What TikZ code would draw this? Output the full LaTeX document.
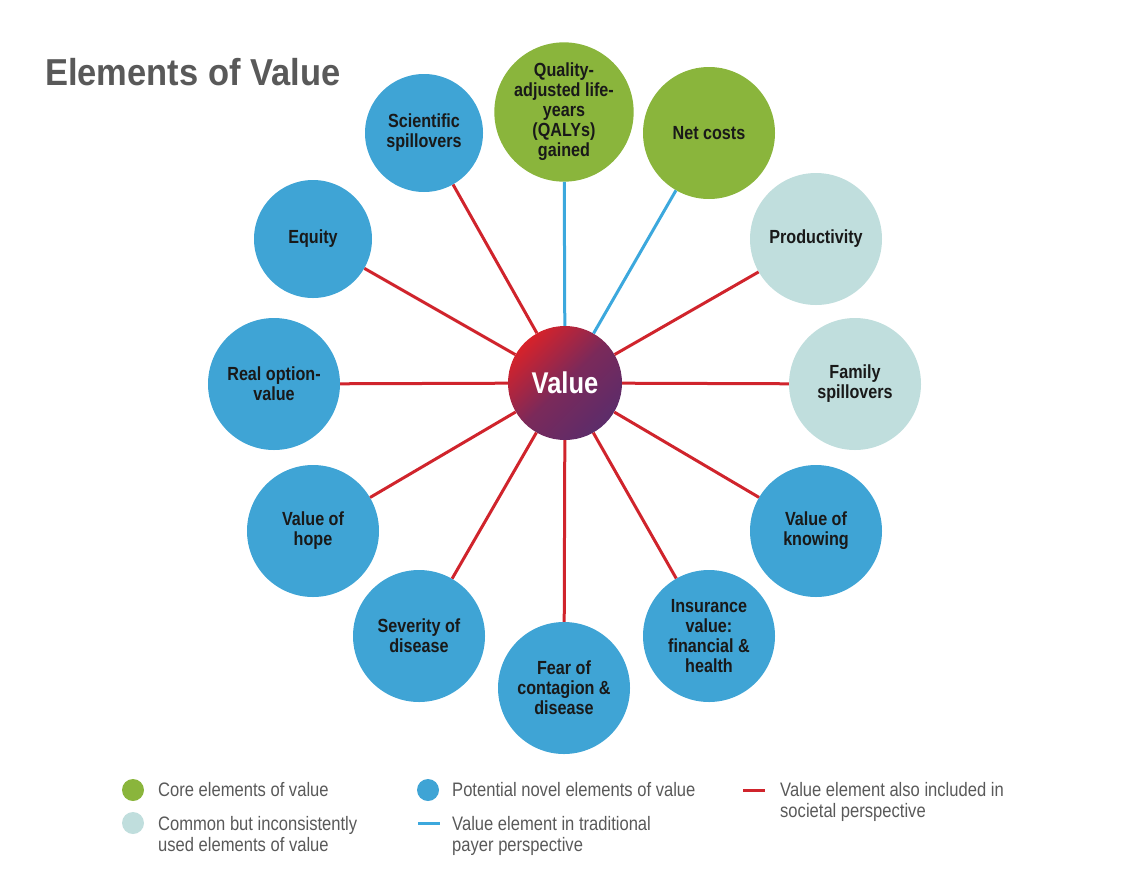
\documentclass[tikz,border=0pt]{standalone}
\usepackage{fontspec}
\setmainfont{Liberation Sans}
\newfontfamily\narrowfont[FakeStretch=0.85]{Liberation Sans}
\newfontfamily\titlefont[FakeStretch=0.92]{Liberation Sans}
\usepackage{tikz}
\usetikzlibrary{shadings}
\definecolor{coregreen}{RGB}{138,181,60}
\definecolor{commonteal}{RGB}{192,222,221}
\definecolor{novelblue}{RGB}{63,164,213}
\definecolor{linered}{RGB}{208,36,44}
\definecolor{lineblue}{RGB}{60,168,221}
\definecolor{valred}{RGB}{215,34,42}
\definecolor{valpurple}{RGB}{92,44,106}
\definecolor{textgrey}{RGB}{89,89,89}
\tikzstyle{element}=[circle,minimum size=132pt,inner sep=0pt,align=center,text=black!90,font=\narrowfont\bfseries\fontsize{19}{20}\selectfont]
\tikzstyle{core}=[element,fill=coregreen]
\tikzstyle{common}=[element,fill=commonteal]
\tikzstyle{novel}=[element,fill=novelblue]
\tikzstyle{societal} = [draw,line width=3pt,linered]
\tikzstyle{payer} = [draw,line width=3pt,lineblue]
\tikzstyle{legenddot}=[circle,minimum size=22pt,inner sep=0pt]
\tikzstyle{legendtext}=[anchor=base west,align=left,inner sep=0pt,text=textgrey,font=\narrowfont\fontsize{19.5}{21}\selectfont]

\begin{document}
\begin{tikzpicture}[x=1pt,y=-1pt]
    \useasboundingbox (0,0) rectangle (1132,868);
    % Title
    \node[anchor=base west,inner sep=0pt,text=textgrey,font=\titlefont\bfseries\fontsize{37.5}{40}\selectfont] (title) at (45,85) {Elements of Value};

    % First we draw the centre
    \node[circle,minimum size=114pt,inner sep=0pt,top color=valred,bottom color=valpurple,middle color=valpurple!75!valred,shading angle=45,text=white,font=\narrowfont\bfseries\fontsize{30}{32}\selectfont] (value) at (565,383) {Value};

    % Then the elements round it
    \foreach \pos/ \name/ \txt in {{(564,112)/qaly/{Quality-\\adjusted life-\\years\\(QALYs)\\gained}},{(709,133)/cost/{Net costs}}}
        \node[core] (\name) at \pos {\txt};

    \foreach \pos/ \name/ \txt in {{(816,239)/prod/{Productivity}},{(855,384)/family/{Family\\spillovers}}}
        \node[common] (\name) at \pos {\txt};

    \foreach \pos/ \name/ \sz/ \txt in {{(816,531)/knowing/132/{Value of\\knowing}},{(709,636)/insurance/132/{Insurance\\value:\\financial \&\\health}},
        {(564,688)/fear/132/{Fear of\\contagion \&\\disease}},{(419,636)/severity/132/{Severity of\\disease}},
        {(313,531)/hope/132/{Value of\\hope}},{(274,384)/option/132/{Real option-\\value}},
        {(313,239)/equity/118/{Equity}},{(424,133)/science/118/{Scientific\\spillovers}}}
        \node[novel,minimum size=\sz pt] (\name) at \pos {\txt};

    % Connect the elements with the centre
    \foreach \dest in {qaly,cost}
        \path[payer] (value) -- (\dest);
    \foreach \dest in {prod,family,knowing,insurance,fear,severity,hope,option,equity,science}
        \path[societal] (value) -- (\dest);

    % Legend (a two-line text sits on its last baseline)
    \node[legenddot,fill=coregreen] (lgcore) at (133,790) {};
    \node[legendtext] (lgcoretext) at (158,796) {Core elements of value};
    \node[legenddot,fill=commonteal] (lgcommon) at (133,823) {};
    \node[legendtext] (lgcommontext) at (158,851) {Common but inconsistently\\used elements of value};
    \node[legenddot,fill=novelblue] (lgnovel) at (428,790) {};
    \node[legendtext] (lgnoveltext) at (452,796) {Potential novel elements of value};
    \coordinate (lgpayerA) at (418,823);
    \coordinate (lgpayerB) at (440,823);
    \path[payer] (lgpayerA) -- (lgpayerB);
    \node[legendtext] (lgpayertext) at (452,851) {Value element in traditional\\payer perspective};
    \coordinate (lgsocA) at (743,790);
    \coordinate (lgsocB) at (765,790);
    \path[societal] (lgsocA) -- (lgsocB);
    \node[legendtext] (lgsoctext) at (780,817) {Value element also included in\\societal perspective};
\end{tikzpicture}
\end{document}
